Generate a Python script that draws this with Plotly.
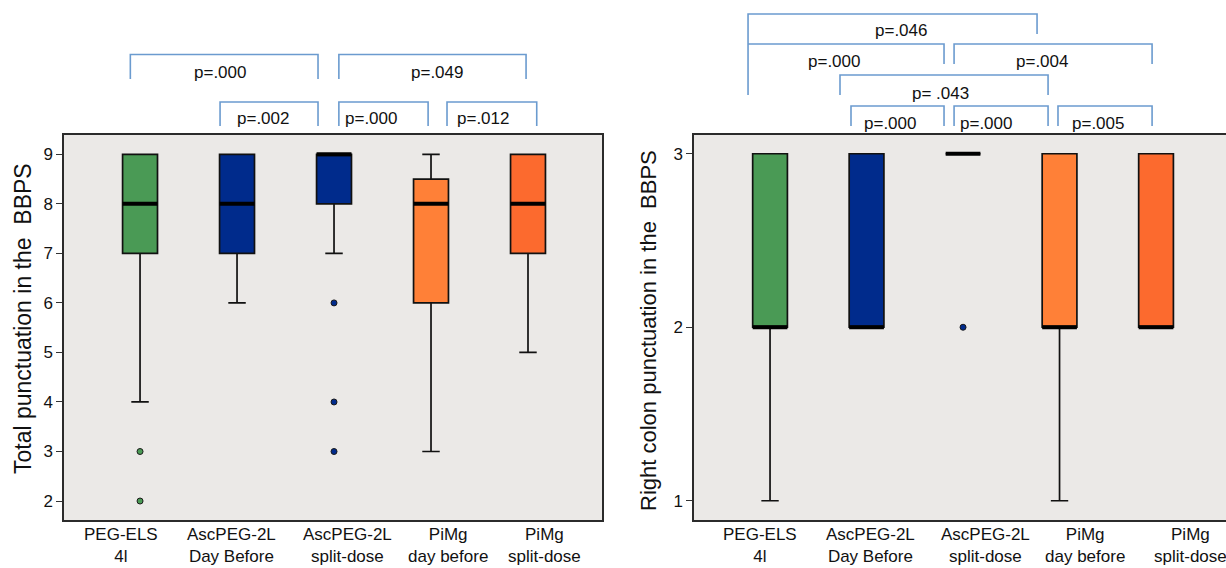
import plotly.graph_objects as go

W, H = 1226, 568

categories = ["PEG-ELS<br>4l", "AscPEG-2L<br>Day Before", "AscPEG-2L<br>split-dose",
              "PiMg<br>day before", "PiMg<br>split-dose"]

# Total BBPS
total_q1 = [7, 7, 8, 6, 7]
total_median = [8, 8, 9, 8, 8]
total_q3 = [9, 9, 9, 8.5, 9]
total_low = [4, 6, 7, 3, 5]
total_high = [9, 9, 9, 9, 9]
total_outliers = [[3, 2], [], [6, 4, 3], [], []]

# Right colon BBPS
right_q1 = [2, 2, 3, 2, 2]
right_median = [2, 2, 3, 2, 2]
right_q3 = [3, 3, 3, 3, 3]
right_low = [1, 2, 3, 1, 2]
right_high = [3, 3, 3, 3, 3]
right_outliers = [[], [], [2], [], []]

left_pvals = ["p=.000", "p=.049", "p=.002", "p=.000", "p=.012"]
right_pvals = ["p=.046", "p=.000", "p=.004", "p= .043", "p=.000", "p=.000", "p=.005"]

colors = ['#4a9a55', '#002b8c', '#002b8c', '#ff8037', '#fc6a2e']
FONT = "Liberation Sans, Arial, Helvetica, sans-serif"
BOX_W = 0.36

fig = go.Figure()


def add_panel(q1, med, q3, lo, hi, outs, xa, ya):
    for i in range(len(q1)):
        fig.add_trace(go.Box(
            x=[i], q1=[q1[i]], median=[med[i]], q3=[q3[i]],
            lowerfence=[lo[i]], upperfence=[hi[i]],
            width=BOX_W, whiskerwidth=0.5, fillcolor=colors[i],
            line=dict(color='#111111', width=1.7), boxpoints=False,
            xaxis=xa, yaxis=ya, showlegend=False))
        fig.add_trace(go.Scatter(
            x=[i - BOX_W / 2, i + BOX_W / 2], y=[med[i], med[i]], mode='lines',
            line=dict(color='black', width=4), xaxis=xa, yaxis=ya,
            showlegend=False, hoverinfo='skip'))
        if outs[i]:
            fig.add_trace(go.Scatter(
                x=[i] * len(outs[i]), y=outs[i], mode='markers',
                marker=dict(size=6, color=colors[i], line=dict(color='#1a1a1a', width=1)),
                xaxis=xa, yaxis=ya, showlegend=False))


add_panel(total_q1, total_median, total_q3, total_low, total_high, total_outliers, 'x', 'y')
add_panel(right_q1, right_median, right_q3, right_low, right_high, right_outliers, 'x2', 'y2')


def yp(py):
    return 1 - py / H


ydom = [yp(520), yp(135)]
axline = dict(showline=True, linecolor='#2b2b2b', linewidth=1.5, showgrid=False, zeroline=False)

fig.update_layout(
    width=W, height=H, margin=dict(l=0, r=0, t=0, b=0),
    paper_bgcolor='white', plot_bgcolor='#ebe9e7',
    font=dict(family=FONT, color='#111111'),
    boxmode='overlay',
    xaxis=dict(domain=[64 / W, 602 / W], range=[-0.784, 4.763], anchor='y',
               showticklabels=False, ticks='', mirror=True, **axline),
    yaxis=dict(domain=ydom, range=[1.617, 9.39], anchor='x', tickvals=list(range(2, 10)),
               ticks='outside', ticklen=6, tickcolor='#333', tickfont=dict(size=17),
               mirror=True, **axline),
    xaxis2=dict(domain=[694 / W, 1], range=[-0.788, 4.725], anchor='y2',
                showticklabels=False, ticks='', mirror=True, **axline),
    yaxis2=dict(domain=ydom, range=[0.889, 3.108], anchor='x2', tickvals=[1, 2, 3],
                ticks='outside', ticklen=6, tickcolor='#333', tickfont=dict(size=17),
                mirror=False, **axline),
)

BR = '#6b9bcf'
brackets = [
    ('x', -0.10, 1.835, 54.5, 79, 79),
    ('x', 2.05, 3.98, 54.5, 79, 79),
    ('x', 0.825, 1.835, 102, 126, 126),
    ('x', 2.05, 2.97, 102, 126, 126),
    ('x', 3.165, 4.09, 102, 126, 126),
    ('x2', -0.228, 2.767, 14, 95, 34),
    ('x2', -0.228, 1.803, 44, 44, 64),
    ('x2', 1.907, 3.959, 44, 64, 64),
    ('x2', 0.725, 2.881, 75, 95, 95),
    ('x2', 0.839, 1.803, 106, 126, 126),
    ('x2', 1.907, 2.881, 106, 126, 126),
    ('x2', 2.984, 3.959, 106, 126, 126),
]
for xr, x0, x1, yt, yl, yr in brackets:
    path = f"M {x0},{yp(yl)} L {x0},{yp(yt)} L {x1},{yp(yt)} L {x1},{yp(yr)}"
    fig.add_shape(type='path', path=path, xref=xr, yref='paper',
                  line=dict(color=BR, width=1.6))

label_pos = [('x', 0.825, 72), ('x', 3.06, 72), ('x', 1.27, 118), ('x', 2.38, 118), ('x', 3.54, 118)]
for (xr, x, y), t in zip(label_pos, left_pvals):
    fig.add_annotation(x=x, y=yp(y), xref=xr, yref='paper', text=t, showarrow=False,
                       font=dict(size=17), xanchor='center', yanchor='middle')
label_pos2 = [('x2', 1.358, 31), ('x2', 0.663, 62), ('x2', 2.819, 62), ('x2', 1.762, 93),
              ('x2', 1.244, 123), ('x2', 2.238, 123), ('x2', 3.399, 123)]
for (xr, x, y), t in zip(label_pos2, right_pvals):
    fig.add_annotation(x=x, y=yp(y), xref=xr, yref='paper', text=t, showarrow=False,
                       font=dict(size=17), xanchor='center', yanchor='middle')

# category labels
cat_x_left = [-0.196, 0.948, 2.134, 3.175, 4.175]
cat_x_right = [-0.104, 1.036, 2.228, 3.264, 4.352]
for xr, xs in (('x', cat_x_left), ('x2', cat_x_right)):
    for x, t in zip(xs, categories):
        fig.add_annotation(x=x, y=yp(523), xref=xr, yref='paper', text=t, showarrow=False,
                           font=dict(size=17), xanchor='center', yanchor='top')

# axis titles
fig.add_annotation(x=23 / W, y=yp(319), xref='paper', yref='paper',
                   text="Total punctuation in the  BBPS", textangle=-90, showarrow=False,
                   font=dict(size=23), xanchor='center', yanchor='middle')
fig.add_annotation(x=649 / W, y=yp(331), xref='paper', yref='paper',
                   text="Right colon punctuation in the  BBPS", textangle=-90, showarrow=False,
                   font=dict(size=22), xanchor='center', yanchor='middle')

fig.write_html("out.html")
